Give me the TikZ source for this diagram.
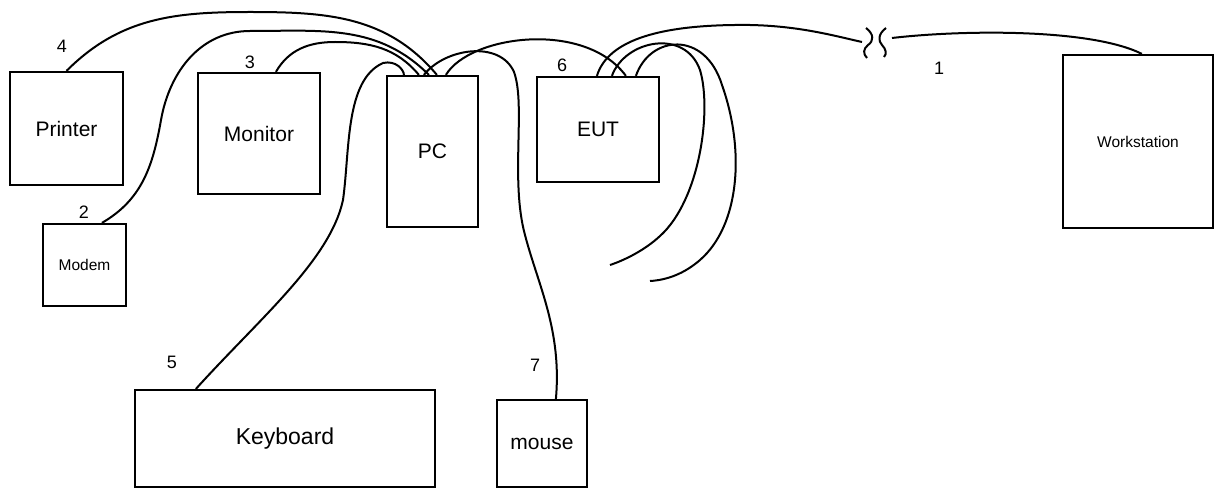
\documentclass[tikz,border=0pt]{standalone}
\usepackage{fontspec}
\setmainfont{Liberation Sans}
\begin{document}
\begin{tikzpicture}[
    x=1pt, y=1pt,
    dev/.style={draw, line width=2.2pt, inner sep=0pt, font=\fontsize{21}{25}\selectfont},
    small/.style={font=\fontsize{15.5}{18}\selectfont},
    num/.style={inner sep=0pt, font=\fontsize{18}{21}\selectfont},
    cable/.style={line width=2pt}
]
\useasboundingbox (0,0) rectangle (1217,-489);
\node[dev, minimum width=113, minimum height=113] (printer) at (66.5,-128.5) {Printer};
\node[dev, minimum width=122, minimum height=121] (monitor) at (259,-133.5) {Monitor};
\node[dev, minimum width=91, minimum height=151] (pc) at (432.5,-151.5) {PC};
\node[dev, minimum width=122, minimum height=105] (eut) at (598,-129.5) {EUT};
\node[dev, small, minimum width=150, minimum height=173] (ws) at (1138,-141.5) {Workstation};
\node[dev, small, minimum width=83, minimum height=82] (modem) at (84.5,-265) {Modem};
\node[dev, font=\fontsize{23}{27}\selectfont, minimum width=300, minimum height=97] (kbd) at (285,-438.5) {Keyboard};
\node[dev, minimum width=90, minimum height=87] (mouse) at (542,-443.5) {mouse};
\node[num] (n1) at (939,-68) {1};
\node[num] (n2) at (84,-212) {2};
\node[num] (n3) at (250,-62) {3};
\node[num] (n4) at (62,-46) {4};
\node[num] (n5) at (172,-362) {5};
\node[num] (n6) at (562,-65) {6};
\node[num] (n7) at (535,-365) {7};
\coordinate (bra) at (862,-42);
\coordinate (brb) at (892,-38);
\coordinate (endA) at (610,-265);
\coordinate (endB) at (650,-281);
\draw[cable] (printer.north) to[out=45,in=180] (250,-12) to[out=0,in=130] ([xshift=51pt]pc.north west);
\draw[cable] ([xshift=60pt]modem.north west) to[out=30,in=-100] (161,-120) to[out=80,in=180] (250,-31) to[out=0,in=135] ([xshift=43pt]pc.north west);
\draw[cable] ([xshift=79pt]monitor.north west) to[out=60,in=180] (335,-42) to[out=0,in=130] ([xshift=33pt]pc.north west);
\draw[cable] ([xshift=62pt]kbd.north west) .. controls (260,-318) and (330,-260) .. (343,-200)
    .. controls (350,-150) and (345,-80) .. (383,-63) .. controls (396,-60) and (404,-70) .. ([xshift=18pt]pc.north west);
\draw[cable] ([xshift=38pt]pc.north west) .. controls (445,-48) and (500,-40) .. (514,-72)
    .. controls (526,-105) and (510,-180) .. (525,-235) .. controls (538,-285) and (562,-330) .. ([xshift=60pt]mouse.north west);
\draw[cable] ([xshift=60pt]pc.north west) .. controls (470,-35) and (585,-20) .. ([xshift=90pt]eut.north west);
\draw[cable] ([xshift=61pt]eut.north west) .. controls (608,-40) and (660,-24) .. (750,-25)
    .. controls (800,-26) and (835,-36) .. (bra);
\draw[cable] (brb) .. controls (960,-30) and (1090,-28) .. ([xshift=80pt]ws.north west);
\draw[cable] (866,-28) .. controls (874,-34) and (874,-41) .. (868,-45) .. controls (863,-49) and (863,-54) .. (867,-58);
\draw[cable] (886,-28) .. controls (878,-34) and (878,-41) .. (882,-45) .. controls (886,-49) and (887,-54) .. (884,-57);
\draw[cable] ([xshift=76pt]eut.north west) .. controls (625,-40) and (685,-28) .. (700,-70)
    .. controls (712,-110) and (700,-200) .. (660,-236) .. controls (645,-250) and (625,-260) .. (endA);
\draw[cable] ([xshift=100pt]eut.north west) .. controls (650,-35) and (705,-30) .. (722,-85)
    .. controls (745,-150) and (740,-225) .. (700,-260) .. controls (685,-273) and (668,-280) .. (endB);
\end{tikzpicture}
\end{document}
